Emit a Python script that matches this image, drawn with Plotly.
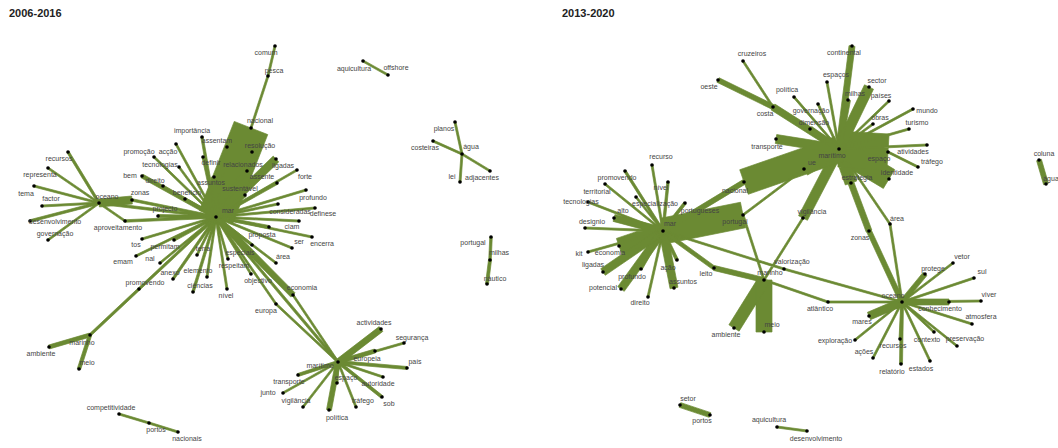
import math
import plotly.graph_objects as go

# ---------------- data: left network (2006-2016) ----------------
# (node, x, y, label_x, label_y)
LEFT_NODES = [
    ("mar", 216, 217, 228, 211), ("nacional", 251, 128, 260, 121), ("pesca", 268, 76, 274, 71),
    ("comum", 275, 46, 266, 53), ("assentam", 227, 147, 217, 141), ("resolução", 252, 152, 260, 146),
    ("relacionados", 247, 171, 243, 165), ("ligadas", 276, 159, 283, 166), ("assente", 277, 183, 262, 177),
    ("forte", 297, 170, 305, 177), ("sustentável", 245, 195, 240, 189), ("assuntos", 214, 177, 211, 183),
    ("importância", 202, 137, 192, 131), ("acção", 176, 144, 168, 152), ("promoção", 154, 157, 139, 152),
    ("tecnologias", 179, 167, 160, 165), ("definir", 203, 157, 211, 163), ("benefício", 185, 199, 187, 193),
    ("direito", 163, 186, 155, 181), ("bem", 142, 176, 130, 176), ("projecto", 158, 216, 165, 209),
    ("zonas", 132, 200, 140, 193), ("oceano", 99, 203, 107, 197), ("recursos", 68, 152, 59, 159),
    ("representa", 48, 168, 40, 175), ("tema", 34, 186, 26, 194), ("factor", 42, 206, 51, 199),
    ("desenvolvimento", 30, 221, 55, 222), ("governação", 48, 240, 55, 234),
    ("aproveitamento", 125, 221, 118, 228), ("tos", 142, 239, 136, 245), ("permitam", 174, 240, 165, 247),
    ("emam", 136, 256, 123, 262), ("nal", 160, 263, 150, 259), ("anexo", 173, 279, 170, 273),
    ("promovendo", 139, 289, 145, 283), ("terra", 197, 255, 203, 249), ("elemento", 207, 277, 198, 271),
    ("ciências", 193, 292, 200, 286), ("nível", 227, 289, 226, 296), ("especiais", 252, 245, 240, 253),
    ("respeitam", 228, 259, 234, 266), ("objectivo", 251, 274, 258, 281), ("europa", 276, 304, 266, 311),
    ("economia", 293, 295, 302, 288), ("área", 276, 263, 283, 257), ("proposta", 269, 227, 262, 235),
    ("ser", 292, 248, 299, 242), ("encerra", 312, 237, 322, 244), ("ciam", 299, 221, 292, 227),
    ("definese", 315, 208, 323, 214), ("consideradas", 278, 204, 290, 212), ("profundo", 306, 190, 313, 198),
    ("marítimo", 338, 362, 320, 366), ("actividades", 381, 329, 374, 323), ("segurança", 404, 343, 412, 338),
    ("europeia", 375, 351, 367, 359), ("país", 407, 368, 415, 362), ("autoridade", 383, 377, 378, 384),
    ("sob", 382, 397, 389, 404), ("tráfego", 356, 407, 363, 401), ("espaço", 337, 383, 346, 378),
    ("política", 329, 410, 337, 418), ("vigilância", 303, 407, 296, 401), ("junto", 283, 393, 268, 393),
    ("transporte", 298, 375, 289, 382), ("marinho", 90, 335, 82, 343), ("ambiente", 49, 347, 41, 354),
    ("meio", 79, 369, 87, 363), ("competitividade", 119, 414, 111, 408), ("portos", 149, 423, 156, 430),
    ("nacionais", 178, 432, 187, 439), ("aquicultura", 363, 61, 354, 69), ("offshore", 388, 75, 396, 68),
    ("planos", 455, 122, 444, 129), ("costeiras", 433, 141, 425, 148), ("água", 462, 154, 471, 147),
    ("adjacentes", 490, 171, 482, 178), ("lei", 460, 182, 452, 177), ("portugal", 491, 237, 473, 243),
    ("milhas", 490, 260, 499, 253), ("náutico", 487, 284, 495, 279),
]
# (from, to, weight)
LEFT_EDGES = [
    ("mar", "nacional", 36), ("nacional", "pesca", 2), ("pesca", "comum", 2),
    ("mar", "assentam", 2), ("mar", "resolução", 2), ("mar", "relacionados", 2), ("mar", "ligadas", 8),
    ("mar", "assente", 3), ("mar", "forte", 2), ("mar", "sustentável", 4), ("mar", "assuntos", 6),
    ("mar", "importância", 2.5), ("mar", "acção", 2), ("mar", "promoção", 2), ("mar", "tecnologias", 2),
    ("mar", "definir", 2), ("mar", "benefício", 2.5), ("mar", "bem", 4), ("mar", "direito", 2),
    ("mar", "projecto", 3), ("mar", "zonas", 2.5), ("mar", "oceano", 2.5), ("oceano", "zonas", 8),
    ("oceano", "recursos", 2.5), ("oceano", "representa", 2), ("oceano", "tema", 2), ("oceano", "factor", 2),
    ("oceano", "desenvolvimento", 2.5), ("oceano", "governação", 2), ("oceano", "aproveitamento", 2),
    ("mar", "aproveitamento", 2.5), ("mar", "tos", 2), ("mar", "permitam", 2.5), ("mar", "emam", 2),
    ("mar", "nal", 2), ("mar", "anexo", 2.5), ("mar", "promovendo", 2.5), ("mar", "terra", 2),
    ("mar", "elemento", 2), ("mar", "ciências", 2.5), ("mar", "nível", 2), ("mar", "especiais", 2.5),
    ("mar", "respeitam", 2), ("mar", "objectivo", 2), ("mar", "europa", 2), ("mar", "economia", 6),
    ("mar", "área", 2), ("mar", "proposta", 3), ("mar", "ser", 2), ("mar", "encerra", 2), ("mar", "ciam", 2),
    ("mar", "definese", 2), ("mar", "consideradas", 2), ("mar", "profundo", 2), ("mar", "marítimo", 2.5),
    ("europa", "marítimo", 2), ("economia", "marítimo", 2), ("promovendo", "marinho", 2.5),
    ("marinho", "ambiente", 4), ("marinho", "meio", 3.5),
    ("marítimo", "actividades", 6), ("marítimo", "segurança", 2), ("marítimo", "europeia", 4),
    ("marítimo", "país", 3), ("marítimo", "autoridade", 2), ("marítimo", "sob", 3), ("marítimo", "tráfego", 2),
    ("marítimo", "espaço", 2), ("marítimo", "política", 5), ("marítimo", "vigilância", 2),
    ("marítimo", "junto", 2), ("marítimo", "transporte", 3),
    ("competitividade", "portos", 2), ("portos", "nacionais", 2), ("aquicultura", "offshore", 2),
    ("planos", "água", 2), ("água", "lei", 2), ("costeiras", "água", 2), ("água", "adjacentes", 2),
    ("portugal", "milhas", 2.5), ("milhas", "náutico", 3),
]

# ---------------- data: right network (2013-2020) ----------------
RIGHT_NODES = [
    ("mar", 663, 231, 670, 224), ("portugal", 743, 215, 735, 222), ("portugueses", 685, 203, 700, 211),
    ("nacional", 744, 182, 735, 191), ("recurso", 652, 165, 661, 157), ("nível", 668, 182, 661, 188),
    ("especialização", 636, 197, 655, 204), ("promovendo", 625, 171, 617, 178),
    ("territorial", 605, 184, 597, 192), ("tecnologias", 588, 202, 581, 202), ("alto", 614, 218, 623, 211),
    ("designio", 585, 228, 592, 222), ("kit", 588, 252, 579, 254), ("economia", 619, 246, 610, 253),
    ("ligadas", 603, 272, 593, 265), ("profundo", 641, 269, 632, 277), ("potencial", 621, 289, 603, 288),
    ("direito", 648, 297, 640, 303), ("ação", 677, 260, 668, 268), ("assuntos", 674, 288, 683, 282),
    ("leito", 714, 268, 706, 274), ("marinho", 764, 280, 770, 273), ("valorização", 784, 269, 792, 262),
    ("ambiente", 734, 328, 726, 335), ("meio", 764, 332, 772, 325), ("atlântico", 828, 302, 820, 309),
    ("oceano", 902, 302, 893, 296), ("zonas", 869, 231, 860, 238), ("área", 890, 224, 897, 219),
    ("protege", 925, 274, 933, 269), ("vetor", 953, 263, 962, 257), ("sul", 974, 278, 982, 272),
    ("viver", 981, 301, 989, 295), ("conhecimento", 949, 302, 940, 309), ("atmosfera", 972, 324, 981, 317),
    ("preservação", 957, 346, 965, 339), ("contexto", 934, 332, 927, 340), ("estados", 930, 361, 921, 369),
    ("relatório", 901, 364, 892, 372), ("recursos", 900, 339, 893, 346), ("ações", 873, 358, 864, 352),
    ("exploração", 855, 340, 835, 341), ("mares", 869, 316, 862, 322), ("setor", 680, 405, 688, 399),
    ("portos", 710, 415, 702, 421), ("aquicultura", 777, 427, 769, 420),
    ("desenvolvimento", 807, 431, 816, 439), ("cruzeiros", 743, 61, 752, 54), ("oeste", 718, 80, 709, 87),
    ("costa", 773, 107, 765, 114), ("política", 794, 97, 787, 90), ("governação", 818, 104, 811, 111),
    ("dimensão", 810, 129, 814, 123), ("transporte", 776, 139, 767, 147), ("ue", 804, 169, 812, 163),
    ("marítimo", 839, 149, 832, 156), ("continental", 852, 46, 844, 53), ("espaços", 827, 82, 836, 75),
    ("sector", 869, 87, 877, 81), ("milhas", 848, 100, 855, 94), ("países", 889, 101, 881, 96),
    ("mundo", 913, 109, 927, 111), ("obras", 873, 124, 880, 118), ("turismo", 909, 129, 917, 123),
    ("atividades", 927, 145, 913, 152), ("espaço", 888, 152, 879, 159), ("tráfego", 918, 167, 932, 162),
    ("identidade", 889, 179, 897, 173), ("estratégia", 851, 183, 857, 178), ("vigilância", 803, 218, 812, 212),
    ("coluna", 1039, 160, 1044, 154), ("água", 1046, 184, 1051, 179),
]
RIGHT_EDGES = [
    ("mar", "portugal", 26), ("portugal", "ue", 2), ("portugal", "marinho", 2), ("mar", "portugueses", 3),
    ("mar", "nacional", 5), ("nacional", "marítimo", 26), ("mar", "recurso", 2), ("mar", "nível", 2.5),
    ("mar", "especialização", 2), ("mar", "promovendo", 2.5), ("mar", "territorial", 2),
    ("mar", "tecnologias", 2), ("mar", "alto", 7), ("mar", "designio", 2), ("mar", "kit", 2),
    ("mar", "economia", 16), ("mar", "ligadas", 8), ("mar", "profundo", 2.5), ("mar", "potencial", 8),
    ("mar", "direito", 2), ("mar", "ação", 3), ("mar", "assuntos", 8), ("mar", "leito", 4),
    ("mar", "valorização", 2), ("valorização", "oceano", 2), ("leito", "marinho", 5),
    ("marinho", "ambiente", 12), ("marinho", "meio", 16), ("marinho", "atlântico", 2),
    ("atlântico", "oceano", 2), ("marinho", "vigilância", 2), ("vigilância", "marítimo", 10),
    ("oceano", "zonas", 5), ("zonas", "estratégia", 6), ("estratégia", "marítimo", 12),
    ("oceano", "área", 2), ("área", "marítimo", 2), ("oceano", "protege", 5), ("oceano", "vetor", 2),
    ("oceano", "sul", 2), ("oceano", "viver", 2), ("oceano", "conhecimento", 6), ("oceano", "atmosfera", 2),
    ("oceano", "preservação", 2), ("oceano", "contexto", 2), ("oceano", "estados", 2),
    ("oceano", "relatório", 3), ("oceano", "recursos", 2), ("oceano", "ações", 2),
    ("oceano", "exploração", 2), ("oceano", "mares", 8), ("setor", "portos", 5),
    ("aquicultura", "desenvolvimento", 2), ("cruzeiros", "costa", 2), ("oeste", "costa", 5),
    ("costa", "marítimo", 7), ("política", "marítimo", 2), ("governação", "marítimo", 2),
    ("dimensão", "marítimo", 6), ("transporte", "marítimo", 9), ("ue", "marítimo", 14),
    ("continental", "marítimo", 6), ("espaços", "marítimo", 2), ("sector", "marítimo", 10),
    ("milhas", "marítimo", 5), ("países", "marítimo", 2), ("mundo", "marítimo", 2), ("obras", "marítimo", 2),
    ("turismo", "marítimo", 2), ("atividades", "marítimo", 2), ("espaço", "marítimo", 36),
    ("tráfego", "espaço", 2), ("identidade", "marítimo", 22), ("coluna", "água", 5),
]

TITLES = [("2006-2016", 7, 13), ("2013-2020", 560, 13)]

# ---------------- figure ----------------
GREEN = "#6b8a33"
W, H = 1058, 448
fig = go.Figure()


def add_network(nodes, edges):
    pos = {n[0]: (n[1], n[2]) for n in nodes}
    px, py = [], []
    for a, b, w in edges:
        x1, y1 = pos[a]
        x2, y2 = pos[b]
        L = math.hypot(x2 - x1, y2 - y1)
        nx, ny = -(y2 - y1) / L * w / 2, (x2 - x1) / L * w / 2
        px += [x1 + nx, x2 + nx, x2 - nx, x1 - nx, x1 + nx, None]
        py += [y1 + ny, y2 + ny, y2 - ny, y1 - ny, y1 + ny, None]
    fig.add_trace(go.Scatter(x=px, y=py, mode="lines", fill="toself", fillcolor=GREEN,
                             line=dict(color=GREEN, width=0.7), hoverinfo="skip", showlegend=False))
    fig.add_trace(go.Scatter(x=[n[1] for n in nodes], y=[n[2] for n in nodes], mode="markers",
                             marker=dict(color="black", size=3.6), hoverinfo="skip", showlegend=False))
    fig.add_trace(go.Scatter(x=[n[3] for n in nodes], y=[n[4] for n in nodes], mode="text",
                             text=[n[0] for n in nodes],
                             textfont=dict(family="Liberation Sans, Arial", size=7, color="#444444"),
                             hoverinfo="skip", showlegend=False))


add_network(LEFT_NODES, LEFT_EDGES)
add_network(RIGHT_NODES, RIGHT_EDGES)

for t, x, y in TITLES:
    fig.add_annotation(x=x, y=y, xref="x", yref="y", text=f"<b>{t}</b>", showarrow=False,
                       xanchor="left", yanchor="middle",
                       font=dict(family="Liberation Sans, Arial", size=11, color="#222"))

fig.update_layout(width=W, height=H, margin=dict(l=0, r=0, t=0, b=0),
                  paper_bgcolor="white", plot_bgcolor="white")
fig.update_xaxes(range=[0, W], visible=False, fixedrange=True)
fig.update_yaxes(range=[H, 0], visible=False, fixedrange=True)
fig.write_html("out.html", config={"displayModeBar": False},
               post_script="document.body.style.margin='0';document.body.style.overflow='hidden';")
